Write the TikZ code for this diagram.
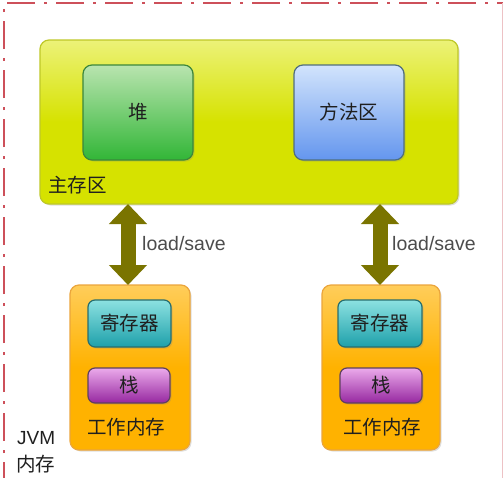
\documentclass[tikz,border=0pt]{standalone}
\usepackage{fontspec}
\setmainfont{Noto Sans CJK SC}
\newfontfamily\latinfont{Liberation Sans}
\usetikzlibrary{arrows.meta,shadows}
\definecolor{yelA}{RGB}{236,242,120}
\definecolor{yelB}{RGB}{214,226,0}
\definecolor{yelD}{RGB}{190,200,40}
\definecolor{grnA}{RGB}{185,228,175}
\definecolor{grnB}{RGB}{50,182,55}
\definecolor{grnD}{RGB}{60,135,60}
\definecolor{bluA}{RGB}{210,228,252}
\definecolor{bluB}{RGB}{100,150,238}
\definecolor{bluD}{RGB}{80,110,125}
\definecolor{orgA}{RGB}{255,205,90}
\definecolor{orgB}{RGB}{255,178,0}
\definecolor{orgD}{RGB}{235,165,60}
\definecolor{tealA}{RGB}{140,225,225}
\definecolor{tealB}{RGB}{30,160,170}
\definecolor{tealD}{RGB}{40,110,110}
\definecolor{purA}{RGB}{235,170,235}
\definecolor{purB}{RGB}{150,40,160}
\definecolor{purD}{RGB}{95,65,95}
\definecolor{olive}{RGB}{122,116,0}
\definecolor{dashred}{RGB}{205,80,90}
\begin{document}
\begin{tikzpicture}[x=1pt,y=-1pt,
  box/.style={rounded corners=9pt,line width=1.2pt,inner sep=0pt,
    drop shadow={shadow xshift=1.5pt,shadow yshift=-1.5pt,opacity=0.25}},
  txt/.style={font=\fontsize{19.5}{22}\selectfont,text=black!88},
  lbl/.style={font=\latinfont\fontsize{19.5}{22}\selectfont,text=black!70,anchor=west},
  dbl/.style={olive,line width=15pt,{Triangle[width=37pt,length=20pt]}-{Triangle[width=37pt,length=20pt]},shorten <=0pt,shorten >=0pt}]
\useasboundingbox (0,0) rectangle (503,477);
% outer dashed frame
\draw[dashred,line width=2.8pt,dash pattern=on 28pt off 9pt on 3pt off 9pt]
  (4,490) -- (4,3) -- (503,3);
\draw[dashred!35,line width=1pt] (502,3) -- (502,490);
% main area
\node[box,draw=yelD,top color=yelA,bottom color=yelB,middle color=yelB,
  minimum width=418pt,minimum height=164pt] (main) at (249,122) {};
\node[box,draw=grnD,top color=grnA,bottom color=grnB,
  minimum width=110pt,minimum height=95pt,txt] (heap) at (138,112.5) {堆};
\node[box,draw=bluD,top color=bluA,bottom color=bluB,
  minimum width=110pt,minimum height=95pt,txt] (method) at (349,112.5) {方法区};
\node[txt,anchor=west,inner sep=0pt] (mainlbl) at (48,185) {主存区};
% working memories
\node[box,draw=orgD,top color=orgA,bottom color=orgB,middle color=orgB,
  minimum width=120pt,minimum height=165pt] (wl) at (130,367.5) {};
\node[box,draw=orgD,top color=orgA,bottom color=orgB,middle color=orgB,
  minimum width=118pt,minimum height=165pt] (wr) at (381,367.5) {};
\node[box,rounded corners=7pt,draw=tealD,top color=tealA,bottom color=tealB,
  minimum width=83pt,minimum height=47pt,txt] (regl) at (129.5,323.5) {寄存器};
\node[box,rounded corners=7pt,draw=tealD,top color=tealA,bottom color=tealB,
  minimum width=84pt,minimum height=47pt,txt] (regr) at (380,323.5) {寄存器};
\node[box,rounded corners=7pt,draw=purD,top color=purA,bottom color=purB,
  minimum width=82pt,minimum height=35pt,txt] (stl) at (129,385.5) {栈};
\node[box,rounded corners=7pt,draw=purD,top color=purA,bottom color=purB,
  minimum width=82pt,minimum height=35pt,txt] (str) at (381,385.5) {栈};
\node[txt] (wll) at (126,427) {工作内存};
\node[txt] (wrl) at (382,427) {工作内存};
% arrows
\coordinate (al1) at (128,204);
\coordinate (al2) at (128,285);
\coordinate (ar1) at (380,204);
\coordinate (ar2) at (380,285);
\draw[dbl] (al1) -- (al2);
\draw[dbl] (ar1) -- (ar2);
\node[lbl,inner sep=0pt] (ls1) at (142,244) {load/save};
\node[lbl,inner sep=0pt] (ls2) at (392,244) {load/save};
% JVM label
\node[txt,anchor=west,inner sep=0pt,font=\latinfont\fontsize{19}{22}\selectfont] (jvm) at (17,438) {JVM};
\node[txt,anchor=west,inner sep=0pt] (jvm2) at (16,464) {内存};
\end{tikzpicture}
\end{document}
